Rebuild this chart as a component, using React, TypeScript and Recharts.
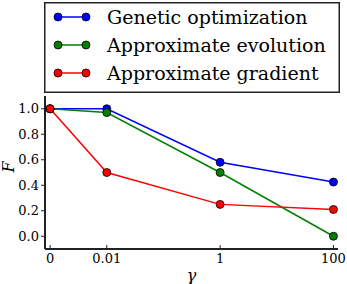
import React from 'react'
import {
  LineChart,
  Line,
  XAxis,
  YAxis,
  Legend,
} from 'recharts'

const gammaLabels = ['0', '0.01', '1', '100']
const gammaValues = [0, 0.01, 1, 100]
const genetic = [1.0, 1.0, 0.58, 0.425]
const evolution = [1.0, 0.97, 0.5, 0.0]
const gradient = [1.0, 0.5, 0.25, 0.21]
const yTicks = [0, 0.2, 0.4, 0.6, 0.8, 1.0]

const SERIES = [
  { key: 'genetic', name: 'Genetic optimization', color: '#0000ff' },
  { key: 'evolution', name: 'Approximate evolution', color: '#008000' },
  { key: 'gradient', name: 'Approximate gradient', color: '#ff0000' },
]

// gamma = 0 sits one decade left of 0.01 on the log axis
const toPos = (g: number) => (g === 0 ? -3 : Math.log10(g))

const data = gammaValues.map((g, i) => ({
  pos: toPos(g),
  genetic: genetic[i],
  evolution: evolution[i],
  gradient: gradient[i],
}))

const xTicks = gammaValues.map(toPos)
const labelFor = (v: number) => gammaLabels[xTicks.indexOf(v)] ?? ''

const FONT = 'DejaVu Serif'
const AXIS = '#222'

const BottomTick = (props: any) => {
  const { x, y, payload } = props
  return (
    <g>
      <line x1={x} x2={x} y1={y} y2={y - 4} stroke={AXIS} strokeWidth={1} />
      <text x={x} y={y + 14} textAnchor="middle" style={{ fontFamily: FONT }} fontSize={13} fill="#000">
        {labelFor(payload.value)}
      </text>
    </g>
  )
}

const LeftTick = (props: any) => {
  const { x, y, payload } = props
  return (
    <text x={x} y={y + 4.5} textAnchor="end" style={{ fontFamily: FONT }} fontSize={13} fill="#000">
      {Number(payload.value).toFixed(1)}
    </text>
  )
}

const TopTick = (props: any) => {
  const { x, y } = props
  return <line x1={x} x2={x} y1={y} y2={y + 4} stroke={AXIS} strokeWidth={1} />
}

const RightTick = (props: any) => {
  const { x, y } = props
  return <line x1={x} x2={x - 4} y1={y} y2={y} stroke={AXIS} strokeWidth={1} />
}

const LegendBox = () => (
  <svg width={296} height={91} style={{ display: 'block' }}>
    <rect x={0.75} y={0.75} width={294.5} height={89.5} fill="#fff" stroke={AXIS} strokeWidth={1.5} />
    {SERIES.map((s, i) => {
      const cy = 15 + i * 28
      return (
        <g key={s.key}>
          <line x1={14} x2={42} y1={cy} y2={cy} stroke={s.color} strokeWidth={1.5} />
          <circle cx={14} cy={cy} r={4} fill={s.color} stroke="#000" strokeWidth={0.8} />
          <circle cx={42} cy={cy} r={4} fill={s.color} stroke="#000" strokeWidth={0.8} />
          <text x={63} y={cy + 7} style={{ fontFamily: FONT }} fontSize={19} fill="#000">
            {s.name}
          </text>
        </g>
      )
    })}
  </svg>
)

export default function App() {
  return (
    <div style={{ position: 'absolute', left: 0, top: 0, width: 347, height: 284, background: '#fff' }}>
      <LineChart
        width={347}
        height={284}
        data={data}
        margin={{ top: 96, right: 9, bottom: 0, left: 0 }}
      >
        <XAxis
          xAxisId="bottom"
          dataKey="pos"
          type="number"
          domain={[-3.09, 2.08]}
          ticks={xTicks}
          height={35}
          axisLine={{ stroke: AXIS, strokeWidth: 2 }}
          tickLine={false}
          tickSize={0}
          tickMargin={0}
          tick={<BottomTick />}
          allowDataOverflow
          label={{ value: 'γ', position: 'insideBottom', offset: 3, style: { fontFamily: FONT, fontStyle: 'italic' }, fontSize: 16, fill: '#000' }}
        />
        <XAxis
          xAxisId="top"
          orientation="top"
          dataKey="pos"
          type="number"
          domain={[-3.09, 2.08]}
          ticks={xTicks}
          height={0}
          axisLine={{ stroke: AXIS, strokeWidth: 2 }}
          tickLine={false}
          tickSize={0}
          tickMargin={0}
          tick={<TopTick />}
          allowDataOverflow
        />
        <YAxis
          yAxisId="left"
          domain={[-0.1, 1.1]}
          ticks={yTicks}
          width={45}
          axisLine={{ stroke: AXIS, strokeWidth: 2 }}
          tickLine={{ stroke: AXIS, strokeWidth: 1 }}
          tickSize={4}
          tickMargin={2}
          tick={<LeftTick />}
          allowDataOverflow
          label={{ value: 'F', angle: -90, position: 'insideLeft', offset: 8, style: { fontFamily: FONT, fontStyle: 'italic' }, fontSize: 16, fill: '#000' }}
        />
        <YAxis
          yAxisId="right"
          orientation="right"
          domain={[-0.1, 1.1]}
          ticks={yTicks}
          width={0}
          axisLine={{ stroke: AXIS, strokeWidth: 2 }}
          tickLine={false}
          tickSize={0}
          tickMargin={0}
          tick={<RightTick />}
          allowDataOverflow
        />
        <Legend
          layout="horizontal"
          verticalAlign="middle"
          align="center"
          content={() => <LegendBox />}
          wrapperStyle={{ position: 'absolute', left: 44, top: 2, width: 296, height: 91 }}
        />
        {SERIES.map((s) => (
          <Line
            key={s.key}
            xAxisId="bottom"
            yAxisId="left"
            type="linear"
            dataKey={s.key}
            name={s.name}
            stroke={s.color}
            strokeWidth={1.5}
            dot={{ r: 4, fill: s.color, stroke: '#000', strokeWidth: 0.8 }}
            activeDot={false}
            isAnimationActive={false}
          />
        ))}
      </LineChart>
    </div>
  )
}
